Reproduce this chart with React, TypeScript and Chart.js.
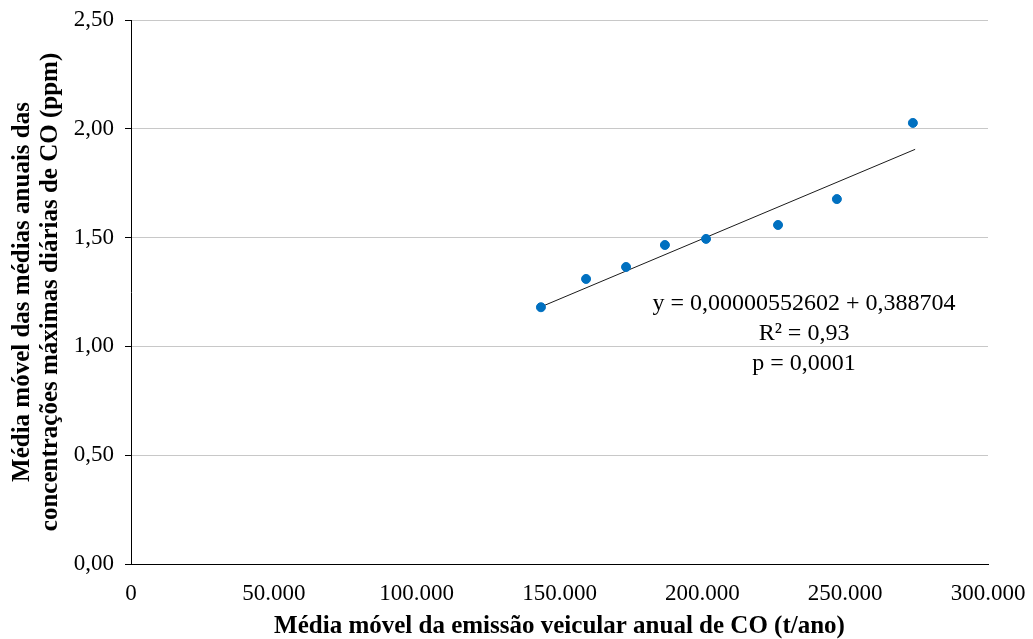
import React, { useEffect, useRef } from "react";
import { Chart, registerables } from "chart.js";

Chart.register(...registerables);

const emissionX = [143500, 159300, 173300, 186900, 201300, 226500, 247100, 273700];
const concentrationY = [1.18, 1.31, 1.365, 1.466, 1.494, 1.558, 1.677, 2.027];
const slope = 0.00000552602;
const intercept = 0.388704;
const trendX = [143500, 274500];
const annotationLines = ["y = 0,00000552602 + 0,388704", "R² = 0,93", "p = 0,0001"];
const xTitle = "Média móvel da emissão veicular anual de CO (t/ano)";
const yTitle = ["Média móvel das médias anuais das", "concentrações máximas diárias de CO (ppm)"];

const FONT = "'Liberation Serif', 'Times New Roman', serif";

export default function App() {
  const ref = useRef<HTMLCanvasElement | null>(null);
  useEffect(() => {
    if (!ref.current) return;
    const annot = {
      id: "annot",
      afterDatasetsDraw(chart: any) {
        const ctx = chart.ctx;
        const xs = chart.scales.x;
        const ys = chart.scales.y;
        const cx = xs.getPixelForValue(235600);
        const y0 = ys.getPixelForValue(1.18);
        ctx.save();
        ctx.fillStyle = "#000";
        ctx.font = `24px ${FONT}`;
        ctx.textAlign = "center";
        ctx.textBaseline = "middle";
        annotationLines.forEach((t, i) => {
          ctx.fillText(t, cx, y0 - 4 + i * 30);
        });
        ctx.restore();
      },
    };
    const chart = new Chart(ref.current, {
      type: "scatter",
      data: {
        datasets: [
          {
            label: "pontos",
            data: emissionX.map((x, i) => ({ x, y: concentrationY[i] })),
            backgroundColor: "#0070C0",
            borderColor: "#0070C0",
            pointRadius: 4.5,
            pointHoverRadius: 4.5,
          },
          {
            label: "tendência",
            type: "line",
            data: trendX.map((x) => ({ x, y: slope * x + intercept })),
            borderColor: "#1a1a1a",
            borderWidth: 1,
            pointRadius: 0,
            fill: false,
          } as any,
        ],
      },
      plugins: [annot],
      options: {
        responsive: false,
        animation: false,
        layout: { padding: { top: 20, right: 45, left: 0, bottom: 0 } },
        plugins: { legend: { display: false }, tooltip: { enabled: false } },
        scales: {
          x: {
            type: "linear",
            min: 0,
            max: 300000,
            afterFit(s: any) { s.height = 75; s.paddingLeft = 0; s.paddingRight = 0; },
            ticks: {
              stepSize: 50000,
              color: "#000",
              font: { family: FONT, size: 23 },
              padding: 10,
              callback: (v: any) => (v === 0 ? "0" : Number(v).toLocaleString("de-DE")),
            },
            grid: { display: false, drawTicks: true, tickLength: 6, color: "#000" } as any,
            border: { display: true, color: "#000", width: 1 },
            title: {
              display: true,
              text: xTitle,
              color: "#000",
              font: { family: FONT, size: 25, weight: "bold", lineHeight: 1.0 },
              padding: { top: 0, bottom: 0 },
            },
          },
          y: {
            min: 0,
            max: 2.5,
            afterFit(s: any) { s.width = 131; s.paddingTop = 0; s.paddingBottom = 0; },
            ticks: {
              stepSize: 0.5,
              color: "#000",
              font: { family: FONT, size: 23 },
              padding: 11,
              callback: (v: any) => Number(v).toFixed(2).replace(".", ","),
            },
            grid: { color: "#c8c8c8", tickColor: "#000", tickLength: 6, drawTicks: true },
            border: { display: true, color: "#000", width: 1 },
            title: {
              display: true,
              text: yTitle,
              color: "#000",
              font: { family: FONT, size: 25, weight: "bold", lineHeight: 1.1 },
              padding: { top: 9, bottom: 0 },
            },
          },
        },
      },
    } as any);
    return () => chart.destroy();
  }, []);
  return (
    <div style={{ position: "absolute", left: 0, top: 0, width: 1033, height: 639, background: "#fff" }}>
      <canvas ref={ref} width={1033} height={639} />
    </div>
  );
}
